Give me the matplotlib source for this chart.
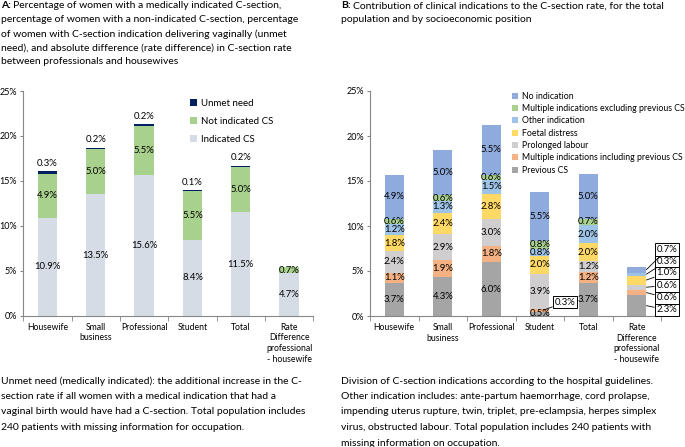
import numpy as np
import matplotlib.pyplot as plt

plt.rcParams['font.family'] = ['Lato', 'DejaVu Sans']

categories = ["Housewife", "Small\nbusiness", "Professional", "Student", "Total",
              "Rate\nDifference\nprofessional\n- housewife"]

# panel A
indicated = [10.9, 13.5, 15.6, 8.4, 11.5, 4.7]
not_indicated = [4.9, 5.0, 5.5, 5.5, 5.0, 0.7]
unmet = [0.3, 0.2, 0.2, 0.1, 0.2, 0.0]

# panel B (bottom to top)
b_names = ["Previous CS", "Multiple indications including previous CS",
           "Prolonged labour", "Foetal distress", "Other indication",
           "Multiple indications excluding previous CS", "No indication"]
previous_cs = [3.7, 4.3, 6.0, 0.5, 3.7, 2.3]
multi_incl = [1.1, 1.9, 1.8, 0.3, 1.2, 0.6]
prolonged = [2.4, 2.9, 3.0, 3.9, 1.2, 0.6]
foetal = [1.8, 2.4, 2.8, 2.0, 2.0, 1.0]
other_ind = [1.2, 1.3, 1.5, 0.8, 2.0, 0.3]
multi_excl = [0.6, 0.6, 0.6, 0.8, 0.7, 0.0]
no_ind = [4.9, 5.0, 5.5, 5.5, 5.0, 0.7]

b_colors = ["#A5A5A5", "#F4B183", "#D0CECE", "#FFD966", "#9DC3E6", "#A9D18E", "#8FAADC"]

title_a = ["Percentage of women with a medically indicated C-section,",
           "percentage of women with a non-indicated C-section, percentage",
           "of women with C-section indication delivering vaginally (unmet",
           "need), and absolute difference (rate difference) in C-section rate",
           "between professionals and housewives"]
title_b = ["Contribution of clinical indications to the C-section rate, for the total",
           "population and by socioeconomic position"]
note_a = ["Unmet need (medically indicated): the additional increase in the C-",
          "section rate if all women with a medical indication that had a",
          "vaginal birth would have had a C-section. Total population includes",
          "240 patients with missing information for occupation."]
note_b = ["Division of C-section indications according to the hospital guidelines.",
          "Other indication includes: ante-partum haemorrhage, cord prolapse,",
          "impending uterus rupture, twin, triplet, pre-eclampsia, herpes simplex",
          "virus, obstructed labour. Total population includes 240 patients with",
          "missing information on occupation."]

W, H = 685, 447
fig = plt.figure(figsize=(W / 100, H / 100), dpi=100)
x = np.arange(len(categories))
bw = 0.4
AX = "#868686"
VFS = 6.8   # value label size


def style(ax):
    ax.set_xlim(-0.5, 5.5)
    ax.set_ylim(0, 25)
    ax.set_yticks(range(0, 26, 5))
    ax.set_yticklabels([f"{v}%" for v in range(0, 26, 5)], fontsize=6.5)
    ax.set_xticks(x)
    ax.set_xticklabels(categories, fontsize=6.2, va="top", linespacing=1.25)
    ax.set_xticks(np.arange(-0.5, 6, 1), minor=True)
    ax.tick_params(axis="x", which="major", length=0, pad=5)
    ax.tick_params(axis="x", which="minor", length=3.5, color=AX)
    ax.tick_params(axis="y", length=2.5, color=AX, pad=2)
    for s in ["top", "right"]:
        ax.spines[s].set_visible(False)
    for s in ["left", "bottom"]:
        ax.spines[s].set_color(AX)
        ax.spines[s].set_linewidth(0.8)


# ---- panel A
ax1 = fig.add_axes([23.3 / W, 1 - 315.7 / H, 290 / W, 224.7 / H])
b1 = ax1.bar(x, indicated, bw, color="#D6DCE5", label="Indicated CS")
b2 = ax1.bar(x, not_indicated, bw, bottom=indicated, color="#A9D18E", label="Not indicated CS")
bot = np.array(indicated) + np.array(not_indicated)
b3 = ax1.bar(x, unmet, bw, bottom=bot, color="#002060", label="Unmet need")
for i in range(len(x)):
    ax1.text(x[i], indicated[i] / 2, f"{indicated[i]:.1f}%", ha="center", va="center", fontsize=VFS)
    ax1.text(x[i], indicated[i] + not_indicated[i] / 2, f"{not_indicated[i]:.1f}%",
             ha="center", va="center", fontsize=VFS)
    if unmet[i] > 0:
        ax1.text(x[i], bot[i] + unmet[i] + 0.35, f"{unmet[i]:.1f}%", ha="center", va="bottom", fontsize=VFS)
style(ax1)
ax1.legend([b3, b2, b1], ["Unmet need", "Not indicated CS", "Indicated CS"],
           loc="upper left", bbox_to_anchor=(0.545, 1.005), frameon=False, fontsize=7,
           labelspacing=0.95, handlelength=0.7, handleheight=0.7, handletextpad=0.45)

# ---- panel B
ax2 = fig.add_axes([370 / W, 1 - 316 / H, 291 / W, 225 / H])
series = [previous_cs, multi_incl, prolonged, foetal, other_ind, multi_excl, no_ind]
bottom = np.zeros(len(x))
handles = []
for vals, name, col in zip(series, b_names, b_colors):
    h = ax2.bar(x, vals, bw, bottom=bottom, color=col, label=name)
    handles.append(h)
    for i in range(5):
        if i == 3 and vals[i] <= 0.5:
            continue
        ax2.text(x[i], bottom[i] + vals[i] / 2, f"{vals[i]:.1f}%", ha="center", va="center", fontsize=VFS)
    bottom += np.array(vals)
ax2.text(x[3], 0.3, f"{previous_cs[3]:.1f}%", ha="center", va="center", fontsize=VFS)

box = dict(boxstyle="square,pad=0.2", fc="white", ec="black", lw=0.7)
arrow = dict(arrowstyle="-", color="black", lw=0.6, shrinkA=0, shrinkB=0)
ax2.annotate(f"{multi_incl[3]:.1f}%", xy=(x[3] + 0.08, previous_cs[3] + multi_incl[3] / 2),
             xytext=(x[3] + 0.52, 1.55), ha="center", va="center", fontsize=VFS,
             bbox=box, arrowprops=arrow)

# rate difference call-outs
cum = np.cumsum([s[5] for s in series])
mids = cum - np.array([s[5] for s in series]) / 2
label_y = {0: 0.67, 1: 2.0, 2: 3.4, 3: 4.8, 4: 6.1, 6: 7.4}
for k, yy in label_y.items():
    ax2.annotate(f"{series[k][5]:.1f}%", xy=(x[5] + 0.2, mids[k]), xytext=(x[5] + 0.62, yy),
                 ha="center", va="center", fontsize=VFS, bbox=box, arrowprops=arrow,
                 annotation_clip=False)
style(ax2)
ax2.legend(handles[::-1], b_names[::-1], loc="upper left", bbox_to_anchor=(0.475, 1.012),
           frameon=False, fontsize=6.3, labelspacing=0.38, handlelength=0.7,
           handleheight=0.7, handletextpad=0.45, borderaxespad=0)

# ---- titles and notes
fig.canvas.draw()
r = fig.canvas.get_renderer()


def block(x0, y0, lines, bold=None, size=7.5, step=14):
    for j, line in enumerate(lines):
        yy = 1 - (y0 + j * step) / H
        xx = x0 / W
        if j == 0 and bold:
            t = fig.text(xx, yy, bold, fontsize=size, fontweight="bold", va="center")
            bb = t.get_window_extent(r)
            xx = bb.x1 / W + 2.2 / W
        fig.text(xx, yy, line, fontsize=size, va="center")


block(1, 6, title_a, bold="A:")
block(341, 6, title_b, bold="B:")
block(1, 381, note_a, step=15.5)
block(341, 381, note_b, step=15.5)

fig.savefig("out.png", dpi=100)
